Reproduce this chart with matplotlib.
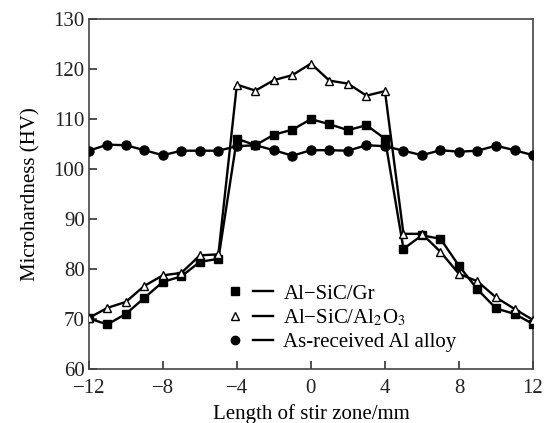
import numpy as np
import matplotlib
matplotlib.use("Agg")
import matplotlib.pyplot as plt
from matplotlib.lines import Line2D
from matplotlib.legend_handler import HandlerTuple

plt.rcParams['font.family'] = ['Liberation Serif', 'DejaVu Serif']
plt.rcParams['mathtext.fontset'] = 'stix'

# stir zone position, mm
x = np.arange(-12, 13, 1)

# microhardness (HV)
al_sic_gr = [70.2, 69.0, 71.1, 74.3, 77.5, 78.6, 81.5, 82.1,
             106.1, 104.8, 106.9, 107.9, 110.0, 109.0, 107.8, 108.8, 106.1,
             84.1, 86.8, 86.1, 80.7, 76.0, 72.2, 71.1, 69.1]
al_sic_al2o3 = [70.3, 72.3, 73.5, 76.7, 78.8, 79.3, 82.8, 83.0,
                116.9, 115.7, 117.8, 118.8, 121.1, 117.7, 117.1, 114.7, 115.6,
                87.1, 87.1, 83.5, 79.1, 77.6, 74.4, 72.1, 69.9]
as_received = [103.7, 104.9, 104.8, 103.8, 102.8, 103.7, 103.7, 103.7,
               104.6, 104.8, 103.8, 102.7, 103.8, 103.8, 103.7, 104.8, 104.6,
               103.7, 102.8, 103.8, 103.5, 103.7, 104.7, 103.8, 102.8]

labels = ["Al\u2212SiC/Gr", "Al\u2212SiC/Al$_2$O$_3$", "As-received Al alloy"]

fig = plt.figure(figsize=(5.45, 4.23), dpi=100)
ax = fig.add_axes([0.163, 0.1265, 0.815, 0.8285])

lw = 1.7
ax.plot(x, as_received, color='black', lw=lw, marker='o', ms=6.5,
        mfc='black', mec='black', zorder=3)
ax.plot(x, al_sic_gr, color='black', lw=lw, marker='s', ms=6,
        mfc='black', mec='black', zorder=4)
ax.plot(x, al_sic_al2o3, color='black', lw=lw, marker='^', ms=6,
        mfc='white', mec='black', mew=1.0, zorder=5)

ax.set_xlim(-12, 12)
ax.set_ylim(60, 130)
ax.set_xticks(np.arange(-12, 13, 4))
ax.set_yticks(np.arange(60, 131, 10))
ax.set_xticklabels([str(v).replace('-', '\u2212') for v in range(-12, 13, 4)])
ax.tick_params(direction='in', length=6, width=1.1, labelsize=15,
               top=False, right=False, colors='#222222')
ax.tick_params(axis='x', pad=7)
ax.tick_params(axis='y', pad=3)
for s in ax.spines.values():
    s.set_linewidth(1.2)
    s.set_color('#444444')

ax.set_xlabel("Length of stir zone/mm", fontsize=15, labelpad=4)
ax.set_ylabel("Microhardness (HV)", fontsize=15, labelpad=9)

# legend: marker, then a short line segment
seg = Line2D([], [], color='black', lw=lw)
h1 = (Line2D([], [], ls='none', marker='s', ms=6, color='black'), seg)
h2 = (Line2D([], [], ls='none', marker='^', ms=6, mfc='white', mec='black'), seg)
h3 = (Line2D([], [], ls='none', marker='o', ms=6, color='black'), seg)
ax.legend([h1, h2, h3], labels, handler_map={tuple: HandlerTuple(ndivide=None, pad=0.4)},
          loc='lower left', bbox_to_anchor=(0.288, 0.025), frameon=False,
          fontsize=15, handlelength=2.3, handletextpad=0.5, labelspacing=0.2,
          borderaxespad=0)

fig.savefig("out.png", dpi=100)
